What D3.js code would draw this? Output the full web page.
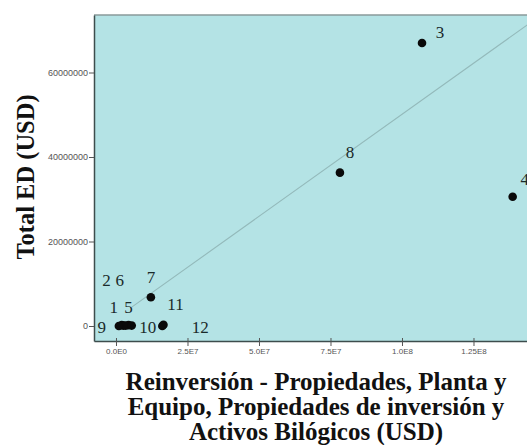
<!DOCTYPE html>
<html>
<head>
<meta charset="utf-8">
<script src="https://cdn.jsdelivr.net/npm/d3@7"></script>
<style>
  html, body { margin: 0; padding: 0; background: #ffffff; }
  svg { display: block; }
</style>
</head>
<body>
<div id="chart"></div>
<script>
// ---- data ----
const caseIds   = ["1", "2", "3", "4", "5", "6", "7", "8", "9", "10", "11", "12"];
const reinversion = [2.0e6, 2.6e6, 1.07e8, 1.387e8, 4.4e6, 3.4e6, 1.22e7, 7.83e7, 1.0e6, 5.5e6, 1.66e7, 1.62e7];
const totalED     = [2.0e5, 1.0e5, 6.70e7, 3.06e7, 2.0e5, 1.0e5, 6.8e6, 3.63e7, 0, 1.0e5, 3.0e5, 0];
const xTickValues = [0, 2.5e7, 5.0e7, 7.5e7, 1.0e8, 1.25e8];
const xTickLabels = ["0.0E0", "2.5E7", "5.0E7", "7.5E7", "1.0E8", "1.25E8"];
const yTickValues = [0, 2e7, 4e7, 6e7];
const yTickLabels = ["0", "20000000", "40000000", "60000000"];
const fitIntercept = 1.8e6;
const fitSlope = 0.483;
const fitXStart = 5.5e6;
const xTitleLines = ["Reinversión - Propiedades, Planta y", "Equipo, Propiedades de inversión y", "Activos Bilógicos (USD)"];
const yTitle = "Total ED (USD)";

// ---- layout (label offsets in px relative to point) ----
const labelDx = [-8, -17, 18, 12, 0, -6, 0, 10, -17, 16, 12, 38];
const labelDy = [-12, -40, -5, -12, -12, -40, -14, -15, 7, 7, -15, 7];

const W = 527, H = 445;
const plot = { left: 94, top: 15, right: 530, bottom: 341 };

const svg = d3.select("#chart").append("svg")
  .attr("width", W).attr("height", H);

const x = d3.scaleLinear()
  .domain([-7.69e6, 1.4476e8])
  .range([plot.left, plot.right]);
const y = d3.scaleLinear()
  .domain([-3.55e6, 7.361e7])
  .range([plot.bottom, plot.top]);

svg.append("defs").append("clipPath").attr("id", "clip")
  .append("rect")
  .attr("x", plot.left).attr("y", plot.top)
  .attr("width", plot.right - plot.left).attr("height", plot.bottom - plot.top);

// background
svg.append("rect")
  .attr("x", plot.left).attr("y", plot.top)
  .attr("width", plot.right - plot.left).attr("height", plot.bottom - plot.top)
  .attr("fill", "#b4e3e5");

// top border
svg.append("line")
  .attr("x1", plot.left).attr("x2", plot.right)
  .attr("y1", plot.top).attr("y2", plot.top)
  .attr("stroke", "#8a9a9a").attr("stroke-width", 1.5);

// fit line
const fitG = svg.append("g").attr("clip-path", "url(#clip)");
fitG.append("line")
  .attr("x1", x(fitXStart)).attr("y1", y(fitIntercept + fitSlope * fitXStart))
  .attr("x2", x(x.domain()[1])).attr("y2", y(fitIntercept + fitSlope * x.domain()[1]))
  .attr("stroke", "#93b9ba").attr("stroke-width", 1.1);

// axes
const xAxis = d3.axisBottom(x)
  .tickValues(xTickValues)
  .tickFormat((d, i) => xTickLabels[i])
  .tickSizeOuter(0).tickSizeInner(5).tickPadding(2);
const gx = svg.append("g").attr("transform", `translate(0,${plot.bottom})`).call(xAxis);
gx.select(".domain").attr("stroke", "#3d4d4d").attr("stroke-width", 1.5);
gx.selectAll(".tick line").attr("stroke", "#555").attr("y1", -3);
gx.selectAll(".tick text")
  .attr("font-family", "Liberation Sans, Arial, sans-serif")
  .attr("font-size", 8).attr("fill", "#555");

const yAxis = d3.axisLeft(y)
  .tickValues(yTickValues)
  .tickFormat((d, i) => yTickLabels[i])
  .tickSizeOuter(0).tickSizeInner(5).tickPadding(1);
const gy = svg.append("g").attr("transform", `translate(${plot.left},0)`).call(yAxis);
gy.select(".domain").attr("stroke", "#3d4d4d").attr("stroke-width", 1.5);
gy.selectAll(".tick line").attr("stroke", "#555");
gy.selectAll(".tick text")
  .attr("font-family", "Liberation Sans, Arial, sans-serif")
  .attr("font-size", 9).attr("fill", "#555");

// points
const pts = caseIds.map((id, i) => ({ id, xv: reinversion[i], yv: totalED[i], i }));
const pg = svg.append("g").attr("clip-path", "url(#clip)");
pg.selectAll("circle").data(pts).join("circle")
  .attr("cx", d => x(d.xv)).attr("cy", d => y(d.yv))
  .attr("r", 4.3).attr("fill", "#0a0a0a");

// point labels
svg.append("g").selectAll("text").data(pts).join("text")
  .attr("x", d => x(d.xv) + labelDx[d.i])
  .attr("y", d => y(d.yv) + labelDy[d.i])
  .attr("text-anchor", "middle")
  .attr("font-family", "Liberation Serif, Times New Roman, serif")
  .attr("font-size", 17)
  .attr("fill", "#1a2a2a")
  .text(d => d.id);

// x title
const xt = svg.append("text")
  .attr("text-anchor", "middle")
  .attr("font-family", "Liberation Serif, Times New Roman, serif")
  .attr("font-weight", "bold")
  .attr("font-size", 25)
  .attr("fill", "#111");
xTitleLines.forEach((t, i) => {
  xt.append("tspan").attr("x", 316).attr("y", 390 + i * 25).text(t);
});

// y title
svg.append("text")
  .attr("transform", "translate(34,177) rotate(-90)")
  .attr("text-anchor", "middle")
  .attr("font-family", "Liberation Serif, Times New Roman, serif")
  .attr("font-weight", "bold")
  .attr("font-size", 24.5)
  .attr("fill", "#111")
  .text(yTitle);
</script>
</body>
</html>
